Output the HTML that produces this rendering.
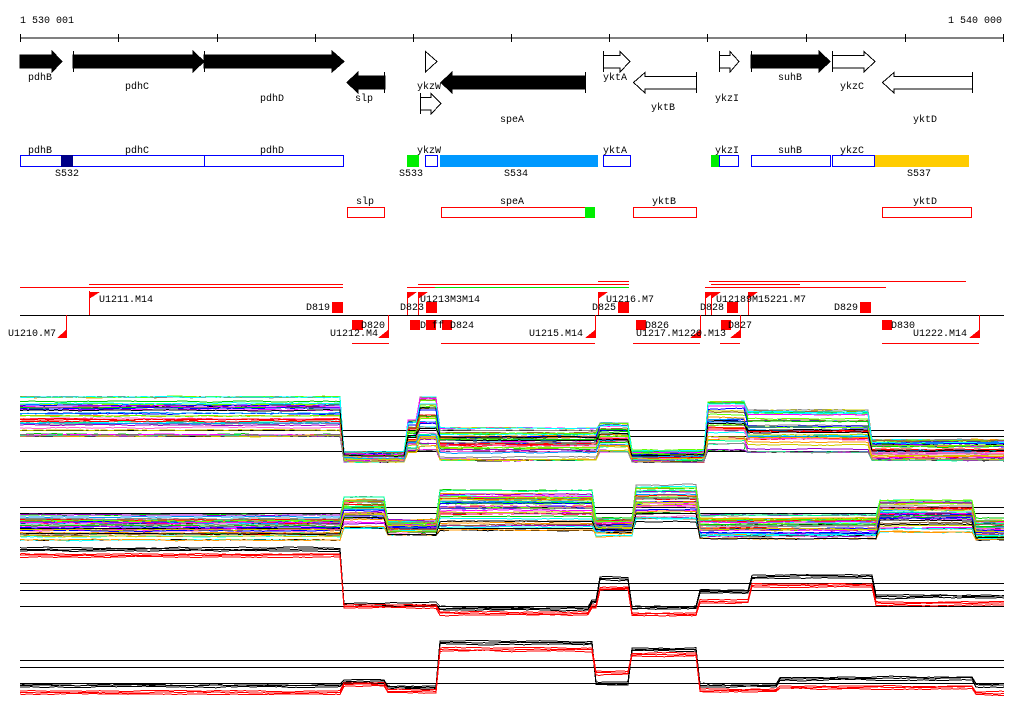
<!DOCTYPE html>
<html><head><meta charset="utf-8"><style>
html,body{margin:0;padding:0;background:#fff;width:1024px;height:714px;overflow:hidden}
svg{display:block}
text{font-family:"Liberation Mono",monospace;font-size:10px;fill:#000}
</style></head><body>
<svg id="s" width="1024" height="714" viewBox="0 0 1024 714" xmlns="http://www.w3.org/2000/svg" shape-rendering="crispEdges">
<text x="20" y="23">1 530 001</text>
<text x="1002" y="23" text-anchor="end">1 540 000</text>
<line x1="20" y1="38" x2="1004" y2="38" stroke="#000"/>
<g stroke="#000">
<line x1="20.5" y1="34" x2="20.5" y2="42"/><line x1="118.5" y1="34" x2="118.5" y2="42"/><line x1="217.5" y1="34" x2="217.5" y2="42"/><line x1="315.5" y1="34" x2="315.5" y2="42"/><line x1="413.5" y1="34" x2="413.5" y2="42"/><line x1="511.5" y1="34" x2="511.5" y2="42"/><line x1="609.5" y1="34" x2="609.5" y2="42"/><line x1="707.5" y1="34" x2="707.5" y2="42"/><line x1="806.5" y1="34" x2="806.5" y2="42"/><line x1="905.5" y1="34" x2="905.5" y2="42"/><line x1="1003.5" y1="34" x2="1003.5" y2="42"/>
</g>
<g fill="#000" stroke="#000">
<polygon points="20,55 52,55 52,51 62,61.5 52,72 52,68 20,68"/>
<polygon points="73,55 193,55 193,51 204,61.5 193,72 193,68 73,68"/>
<line x1="73.5" y1="51" x2="73.5" y2="72"/>
<polygon points="204,55 332,55 332,51 344,61.5 332,72 332,68 204,68"/>
<line x1="204.5" y1="51" x2="204.5" y2="72"/>
<polygon points="385,76 358,76 358,72 347,82.5 358,93 358,89 385,89"/>
<line x1="384.5" y1="72" x2="384.5" y2="93"/>
<polygon points="585,76 452,76 452,72 441,82.5 452,93 452,89 585,89"/>
<line x1="585.5" y1="72" x2="585.5" y2="93"/>
<polygon points="751,55 819,55 819,51 830,61.5 819,72 819,68 751,68"/>
<line x1="751.5" y1="51" x2="751.5" y2="72"/>
</g>
<g fill="#fff" stroke="#000">
<polygon points="425.5,51.5 437,61.5 425.5,72"/>
<polygon points="420.5,97.5 431,97.5 431,93.5 441,103.5 431,114 431,110 420.5,110"/>
<line x1="420.5" y1="93" x2="420.5" y2="114"/>
<polygon points="603.5,55.5 620,55.5 620,51.5 630,61.5 620,72 620,68 603.5,68"/>
<line x1="603.5" y1="51" x2="603.5" y2="72"/>
<polygon points="696.5,76.5 645,76.5 645,72.5 633.5,82.5 645,93 645,89 696.5,89"/>
<line x1="696.5" y1="72" x2="696.5" y2="93"/>
<polygon points="719.5,55.5 730,55.5 730,51.5 739,61.5 730,72 730,68 719.5,68"/>
<line x1="719.5" y1="51" x2="719.5" y2="72"/>
<polygon points="832.5,55.5 864,55.5 864,51.5 875,61.5 864,72 864,68 832.5,68"/>
<line x1="832.5" y1="51" x2="832.5" y2="72"/>
<polygon points="972.5,76.5 894,76.5 894,72.5 882.5,82.5 894,93 894,89 972.5,89"/>
<line x1="972.5" y1="72" x2="972.5" y2="93"/>
</g>
<text x="28" y="80">pdhB</text><text x="125" y="89">pdhC</text><text x="260" y="101">pdhD</text>
<text x="355" y="101">slp</text><text x="417" y="89">ykzW</text><text x="500" y="122">speA</text>
<text x="603" y="80">yktA</text><text x="651" y="110">yktB</text><text x="715" y="101">ykzI</text>
<text x="778" y="80">suhB</text><text x="840" y="89">ykzC</text><text x="913" y="122">yktD</text>
<g fill="none" stroke="#0000ff">
<rect x="20.5" y="155.5" width="184" height="11"/><rect x="204.5" y="155.5" width="139" height="11"/>
<rect x="425.5" y="155.5" width="12" height="11"/><rect x="603.5" y="155.5" width="27" height="11"/>
<rect x="719.5" y="155.5" width="19" height="11"/><rect x="751.5" y="155.5" width="79" height="11"/>
<rect x="832.5" y="155.5" width="42" height="11"/>
</g>
<rect x="61" y="155" width="12" height="12" fill="#000088"/>
<rect x="407" y="155" width="12" height="12" fill="#00ee00"/>
<rect x="440" y="155" width="158" height="12" fill="#0099ff"/>
<rect x="711" y="155" width="8" height="12" fill="#00ee00"/>
<rect x="875" y="155" width="94" height="12" fill="#ffcc00"/>
<text x="28" y="153">pdhB</text><text x="125" y="153">pdhC</text><text x="260" y="153">pdhD</text>
<text x="417" y="153">ykzW</text><text x="603" y="153">yktA</text><text x="715" y="153">ykzI</text>
<text x="778" y="153">suhB</text><text x="840" y="153">ykzC</text>
<text x="55" y="176">S532</text><text x="399" y="176">S533</text><text x="504" y="176">S534</text><text x="907" y="176">S537</text>
<g fill="none" stroke="#ff0000">
<rect x="347.5" y="207.5" width="37" height="10"/><rect x="441.5" y="207.5" width="153" height="10"/>
<rect x="633.5" y="207.5" width="63" height="10"/><rect x="882.5" y="207.5" width="89" height="10"/>
</g>
<rect x="585" y="207" width="10" height="11" fill="#00ee00"/>
<text x="356" y="204">slp</text><text x="500" y="204">speA</text><text x="652" y="204">yktB</text><text x="913" y="204">yktD</text>
<line x1="20" y1="315.5" x2="1004" y2="315.5" stroke="#000"/>
<line x1="435" y1="287.5" x2="629" y2="287.5" stroke="#00dd00"/>
<g stroke="#ff0000">
<line x1="20" y1="287.5" x2="343" y2="287.5"/><line x1="89" y1="284.5" x2="343" y2="284.5"/>
<line x1="407" y1="287.5" x2="435" y2="287.5"/><line x1="418" y1="284.5" x2="629" y2="284.5"/>
<line x1="598" y1="281.5" x2="629" y2="281.5"/>
<line x1="709" y1="281.5" x2="966" y2="281.5"/><line x1="711" y1="284.5" x2="800" y2="284.5"/><line x1="705" y1="287.5" x2="886" y2="287.5"/>
<line x1="352" y1="343.5" x2="389" y2="343.5"/><line x1="441" y1="343.5" x2="595" y2="343.5"/>
<line x1="633" y1="343.5" x2="700" y2="343.5"/><line x1="720" y1="343.5" x2="740" y2="343.5"/><line x1="882" y1="343.5" x2="979" y2="343.5"/>
<line x1="89.5" y1="291" x2="89.5" y2="315"/><line x1="66.5" y1="315" x2="66.5" y2="338"/>
<line x1="388.5" y1="315" x2="388.5" y2="338"/><line x1="595.5" y1="315" x2="595.5" y2="338"/>
<line x1="598.5" y1="292" x2="598.5" y2="315"/><line x1="700.5" y1="315" x2="700.5" y2="338"/>
<line x1="740.5" y1="315" x2="740.5" y2="338"/><line x1="979.5" y1="315" x2="979.5" y2="338"/>
<line x1="407.5" y1="292" x2="407.5" y2="315"/><line x1="418.5" y1="292" x2="418.5" y2="315"/>
<line x1="705.5" y1="292" x2="705.5" y2="315"/><line x1="711.5" y1="292" x2="711.5" y2="315"/>
<line x1="748.5" y1="292" x2="748.5" y2="315"/>
</g>
<g fill="#ff0000">
<polygon points="89,292 100,292 89,299"/><polygon points="66,330 66,338 57,338"/>
<polygon points="388,330 388,338 378,338"/><polygon points="595,330 595,338 585,338"/>
<polygon points="598,292 608,292 598,299"/><polygon points="700,330 700,338 690,338"/>
<polygon points="740,330 740,338 730,338"/><polygon points="979,330 979,338 969,338"/>
<polygon points="407,292 417,292 407,299"/><polygon points="418,292 428,292 418,299"/>
<polygon points="705,292 715,292 705,299"/><polygon points="711,292 721,292 711,299"/><polygon points="748,292 758,292 748,299"/>
<rect x="332" y="302" width="11" height="11"/><rect x="352" y="320" width="11" height="10"/>
<rect x="426" y="302" width="11" height="11"/><rect x="410" y="320" width="10" height="10"/>
<rect x="426" y="320" width="10" height="10"/><rect x="442" y="320" width="10" height="10"/>
<rect x="618" y="302" width="11" height="11"/><rect x="636" y="320" width="10" height="10"/>
<rect x="727" y="302" width="11" height="11"/><rect x="721" y="320" width="10" height="10"/>
<rect x="860" y="302" width="11" height="11"/><rect x="882" y="320" width="10" height="10"/>
</g>
<text x="99" y="302">U1211.M14</text><text x="8" y="336">U1210.M7</text>
<text x="306" y="310">D819</text><text x="361" y="328">D820</text><text x="330" y="336">U1212.M4</text>
<text x="400" y="310">D823</text><text x="420" y="302">U1213M3M14</text><text x="420" y="328">D  ff D824</text>
<text x="606" y="302">U1216.M7</text><text x="592" y="310">D825</text><text x="529" y="336">U1215.M14</text>
<text x="645" y="328">D826</text><text x="636" y="336">U1217.M1220.M13</text>
<text x="700" y="310">D828</text><text x="716" y="302">U12189M15221.M7</text><text x="728" y="328">D827</text>
<text x="834" y="310">D829</text><text x="891" y="328">D830</text><text x="913" y="336">U1222.M14</text>
<g stroke="#000">
<line x1="20" y1="430.5" x2="1004" y2="430.5"/><line x1="20" y1="436.5" x2="1004" y2="436.5"/><line x1="20" y1="451.5" x2="1004" y2="451.5"/>
<line x1="20" y1="507.5" x2="1004" y2="507.5"/><line x1="20" y1="513.5" x2="1004" y2="513.5"/><line x1="20" y1="528.5" x2="1004" y2="528.5"/>
<line x1="20" y1="583.5" x2="1004" y2="583.5"/><line x1="20" y1="590.5" x2="1004" y2="590.5"/><line x1="20" y1="606.5" x2="1004" y2="606.5"/>
<line x1="20" y1="660.5" x2="1004" y2="660.5"/><line x1="20" y1="667.5" x2="1004" y2="667.5"/><line x1="20" y1="683.5" x2="1004" y2="683.5"/>
</g>
<g id="plots" fill="none" stroke-width="1"></g>
</svg>
<script>
(function(){
var seed=12345;function r(){seed=(seed*1103515245+12345)%2147483648;return seed/2147483648;}
var g=document.getElementById('plots');var NS='http://www.w3.org/2000/svg';
var pal=['#ff0000','#00cc00','#0000ff','#ff00ff','#00ffff','#ff9900','#cccc00','#888888','#66ff00','#000000','#9900cc','#ff66cc','#0099ff','#996633','#00ff99'];
function lvl(segs,x){for(var i=0;i<segs.length;i++){if(x>=segs[i][0]&&x<segs[i][1])return segs[i];}return segs[segs.length-1];}
function multi(segs,n){
 for(var k=0;k<n;k++){var f=r();var pts=[];var off={};var w=0;
  for(var x=20;x<=1004;x+=4){var s=lvl(segs,x);var key=s[0];if(off[key]===undefined)off[key]=Math.min(1,Math.max(0,f+(r()-0.5)*0.4));
   w=w*0.8+(r()-0.5)*0.8;var y=s[2]+off[key]*(s[3]-s[2])+w;pts.push(x+','+y.toFixed(1));}
  var p=document.createElementNS(NS,'polyline');p.setAttribute('points',pts.join(' '));p.setAttribute('stroke',pal[k%pal.length]);g.appendChild(p);}
}
function pair(segs){
 for(var k=0;k<6;k++){var pts=[];var red=k>=3;var o=(k%3)*1.5;var w=0;
  for(var x=20;x<=1004;x+=4){var s=lvl(segs,x);w=w*0.8+(r()-0.5)*0.8;var y=(red?s[3]:s[2])+o+w;pts.push(x+','+y.toFixed(1));}
  var p=document.createElementNS(NS,'polyline');p.setAttribute('points',pts.join(' '));p.setAttribute('stroke',red?'#ff0000':'#000000');g.appendChild(p);}
}
multi([[20,343,397,436],[343,405,452,462],[405,420,420,452],[420,437,397,450],[437,598,428,460],[598,630,423,452],[630,705,450,462],[705,745,402,450],[745,872,410,452],[872,1004,440,460]],40);
multi([[20,343,515,540],[343,385,497,528],[385,437,520,535],[437,593,490,530],[593,633,518,536],[633,697,485,522],[697,880,515,540],[880,975,500,532],[975,1004,518,540]],40);
pair([[20,343,548,554],[343,437,603,605],[437,590,607,612],[590,600,600,605],[600,630,577,587],[630,700,606,613],[700,750,590,600],[750,875,575,584],[875,1004,595,602]]);
pair([[20,343,684,691],[343,385,680,683],[385,437,686,690],[437,593,641,648],[593,630,682,671],[630,697,648,653],[697,780,684,689],[780,975,677,686],[975,1004,684,692]]);
})();
</script>
</body></html>
